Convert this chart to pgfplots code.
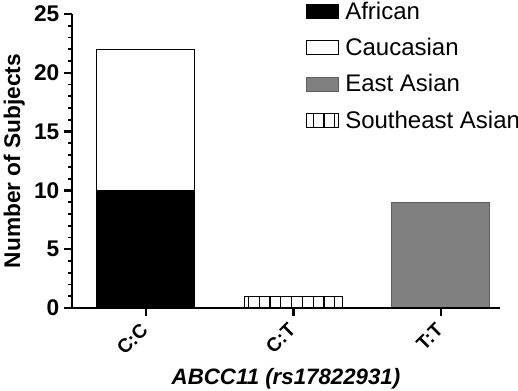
\documentclass[border=0pt]{standalone}
\usepackage{pgfplots}
\pgfplotsset{compat=1.18}
\usepackage{fontspec}
\setmainfont{Liberation Sans}
\usetikzlibrary{patterns.meta}
\definecolor{eastgray}{RGB}{128,128,128}
\definecolor{eastedge}{RGB}{95,95,95}
\begin{document}
\begin{tikzpicture}
\begin{axis}[
  at={(0,0)}, anchor=south west,
  scale only axis, width=321pt, height=220.5pt,
  xmin=-0.5, xmax=2.4, ymin=0, ymax=25,
  axis x line*=bottom, axis y line*=left,
  axis line style={line width=1.8pt, -},
  axis on top,
  ybar stacked, bar width=73.5pt,
  xtick={0,1,2}, xticklabels={C:C,C:T,T:T},
  x tick label style={rotate=45, anchor=east, xshift=-3pt, yshift=-5pt, font=\fontsize{14.5}{17}\selectfont\bfseries},
  y tick label style={font=\fontsize{17}{20}\selectfont\bfseries},
  /pgf/number format/assume math mode=true,
  ytick={0,5,...,25}, minor y tick num=4,
  tick align=outside,
  major tick length=6pt, minor tick length=3pt,
  every tick/.style={black, line width=1.8pt},
  minor tick style={line width=1.4pt},
  xlabel={ABCC11 (rs17822931)},
  xlabel style={font=\fontsize{16.7}{19}\selectfont\bfseries\itshape, yshift=-1pt},
  ylabel={Number of Subjects},
  ylabel style={font=\fontsize{17}{20}\selectfont\bfseries},
  legend image code/.code={\draw[#1, line width=0.8pt] (0pt,-5.25pt) rectangle (24pt,5.25pt);},
  legend style={draw=none, fill=none, at={(rel axis cs:0.545,1.052)}, anchor=north west,
    font=\fontsize{18}{21}\selectfont, row sep=8.8pt, inner sep=0pt,
    nodes={inner xsep=5pt}},
  legend cell align=left,
]
\addplot[fill=black, draw=black, line width=0.8pt] coordinates {(0,10) (1,0) (2,0)};
\addlegendentry{African}
\addplot[fill=white, draw=black, line width=0.6pt] coordinates {(0,12) (1,0) (2,0)};
\addlegendentry{Caucasian}
\addplot[fill=eastgray, draw=eastedge, line width=0.8pt] coordinates {(0,0) (1,0) (2,9)};
\addlegendentry{East Asian}
\addplot[pattern={Lines[angle=90,distance=8.1pt,line width=1pt]}, pattern color=black, draw=black, line width=0.8pt] coordinates {(0,0) (1,1) (2,0)};
\addlegendentry{Southeast Asian}
\end{axis}
\pgfresetboundingbox
\useasboundingbox (-54pt,-61.5pt) rectangle (334.5pt,231pt);
\end{tikzpicture}
\end{document}
